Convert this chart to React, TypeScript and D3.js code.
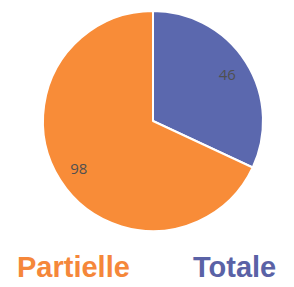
import { useEffect, useRef } from "react";
import * as d3 from "d3";

// ── Data ──────────────────────────────────────────────────────────
const categories = ["Totale", "Partielle"];
const values = [46, 98];
const colors = ["#5B68AE", "#F88C38"];
const legendColors = ["#5A62A6", "#F5873A"];

const W = 294;
const H = 287;

export default function App() {
  const svgRef = useRef<SVGSVGElement>(null);

  useEffect(() => {
    if (!svgRef.current) return;
    const svg = d3.select(svgRef.current);
    svg.selectAll("*").remove();

    const cx = 153, cy = 121, r = 110;
    const g = svg.append("g").attr("transform", `translate(${cx},${cy})`);

    const pie = d3.pie<number>().sort(null).value((d) => d);
    const arcs = pie(values);
    const arc = d3.arc<d3.PieArcDatum<number>>().innerRadius(0).outerRadius(r);
    const labelArc = d3.arc<d3.PieArcDatum<number>>().innerRadius(r * 0.8).outerRadius(r * 0.8);

    g.selectAll("path.slice")
      .data(arcs)
      .join("path")
      .attr("class", "slice")
      .attr("d", arc)
      .attr("fill", (_, i) => colors[i])
      .attr("stroke", "#fff")
      .attr("stroke-width", 2)
      .attr("stroke-linejoin", "round");

    g.selectAll("text.val")
      .data(arcs)
      .join("text")
      .attr("class", "val")
      .attr("transform", (d) => `translate(${labelArc.centroid(d)})`)
      .attr("text-anchor", "middle")
      .attr("dominant-baseline", "central")
      .attr("font-family", "'Open Sans', sans-serif")
      .attr("font-size", 15)
      .attr("fill", "#505050")
      .text((d) => String(d.data));

    // legend: Partielle left, Totale right
    const legend = [
      { label: categories[1], color: legendColors[1], x: 17 },
      { label: categories[0], color: legendColors[0], x: 193 },
    ];
    svg.selectAll("text.leg")
      .data(legend)
      .join("text")
      .attr("class", "leg")
      .attr("x", (d) => d.x)
      .attr("y", 277)
      .attr("font-family", "'Liberation Sans', Arial, sans-serif")
      .attr("font-weight", "bold")
      .attr("font-size", 29)
      .attr("fill", (d) => d.color)
      .text((d) => d.label);
  }, []);

  return (
    <svg
      ref={svgRef}
      width={W}
      height={H}
      style={{ position: "absolute", left: 0, top: 0, background: "#fff" }}
    />
  );
}
